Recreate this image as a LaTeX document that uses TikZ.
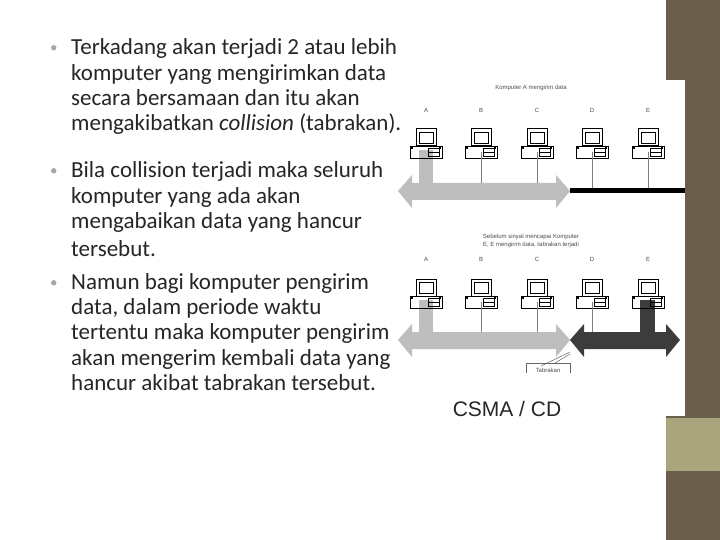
\documentclass[tikz,border=0pt]{standalone}
\usepackage{fontspec}
\setmainfont{Carlito}
\newfontfamily\arialf{Liberation Sans}
\definecolor{olive}{RGB}{107,95,75}
\definecolor{lolive}{RGB}{170,165,125}
\definecolor{txt}{RGB}{38,38,38}
\definecolor{busg}{RGB}{190,190,190}
\definecolor{busd}{RGB}{60,60,60}
\tikzset{
  line/.style={anchor=base west,text=txt,font=\fontsize{23}{26}\selectfont,inner sep=0},
  bul/.style={anchor=base west,text=black!35,font=\fontsize{15}{18}\selectfont,inner sep=0},
  lab/.style={font=\arialf\fontsize{6}{7}\selectfont,text=black!70,inner sep=0},
  pc/.pic={
    \draw[line width=1pt] (-10,-21) rectangle (10,-4);
    \draw[line width=0.5pt] (-7,-18) rectangle (7,-7);
    \draw[line width=0.4pt] (-16,-4) rectangle (16,8);
    \draw[line width=0.6pt] (2,-2) rectangle (13,6);
    \draw[line width=0.5pt] (2,2) -- (13,2);
    \fill (-15,-3) rectangle (-13,-1);
    \fill (13,-3) rectangle (15,-1);
  }
}
\begin{document}
\begin{tikzpicture}[x=1pt,y=-1pt]
\useasboundingbox (0,0) rectangle (720,540);
\fill[white] (0,0) rectangle (720,540);
\fill[olive] (666,0) rectangle (720,540);
\fill[lolive] (666,418) rectangle (720,471);
\fill[white] (398,80) rectangle (685,416);
% text
\foreach \y/\b/\t in {55/1/Terkadang akan terjadi 2 atau lebih,
  81/0/komputer yang mengirimkan data,
  106/0/secara bersamaan dan itu akan,
  131/0/{mengakibatkan \textit{collision} (tabrakan).},
  178/1/Bila collision terjadi maka seluruh,
  204/0/komputer yang ada akan,
  229/0/mengabaikan data yang hancur,
  256/0/tersebut.,
  289/1/Namun bagi komputer pengirim,
  314/0/{data, dalam periode waktu},
  339/0/tertentu maka komputer pengirim,
  365/0/akan mengerim kembali data yang,
  390/0/hancur akibat tabrakan tersebut.}
{
  \node[line] (t\y) at (71,\y) {\t};
  \ifnum\b=1 \node[bul] (b\y) at (50,\y-2) {•}; \fi
}
% titles
\node[lab] (title1) at (531,88) {Komputer A mengirim data};
\node[lab] (title2) at (531,237) {Sebelum sinyal mencapai Komputer};
\node[lab] (title3) at (531,245) {E, E mengirim data, tabrakan terjadi};
% top row
\fill[busg] (419,150) rectangle (433,191);
\fill[busg] (398,191) -- (412,175) -- (412,183) -- (556,183) -- (556,175) -- (570,191) -- (556,208) -- (556,200) -- (412,200) -- (412,208) -- cycle;
\fill[black] (570,188) rectangle (685,193);
\foreach \n/\x in {A/426,B/481,C/537,D/592,E/648}{
  \node[lab] (l1\n) at (\x,110) {\n};
  \pic (p1\n) at (\x,150) {pc};
}
\foreach \x in {481,537}{\draw[gray,line width=0.4pt] (\x,152) -- (\x,183);}
\foreach \x in {592,648}{\draw[gray,line width=0.4pt] (\x,152) -- (\x,188);}
% bottom row
\fill[busg] (419,300) rectangle (433,340);
\fill[busg] (398,340) -- (412,324) -- (412,332) -- (556,332) -- (556,324) -- (570,340) -- (556,357) -- (556,349) -- (412,349) -- (412,357) -- cycle;
\fill[busd] (640,300) rectangle (655,340);
\fill[busd] (570,340) -- (584,324) -- (584,332) -- (666,332) -- (666,324) -- (680,340) -- (666,357) -- (666,349) -- (584,349) -- (584,357) -- cycle;
\foreach \n/\x in {A/426,B/481,C/537,D/592,E/648}{
  \node[lab] (l2\n) at (\x,259) {\n};
  \pic (p2\n) at (\x,300) {pc};
}
\foreach \x in {481,537,592}{\draw[gray,line width=0.4pt] (\x,302) -- (\x,332);}
\node[lab,draw=black!60,line width=0.4pt,minimum width=44,minimum height=14] (tab) at (548,370) {Tabrakan};
\draw[black!70,line width=0.4pt] (541,366) -- (570,352);
\draw[black!70,line width=0.4pt] (555,363) -- (570,354);
\fill[white] (525,373) rectangle (571,378);
\node[font=\arialf\fontsize{21}{24}\selectfont,text=black!85,inner sep=0] (csma) at (507,409) {CSMA / CD};
\end{tikzpicture}
\end{document}
